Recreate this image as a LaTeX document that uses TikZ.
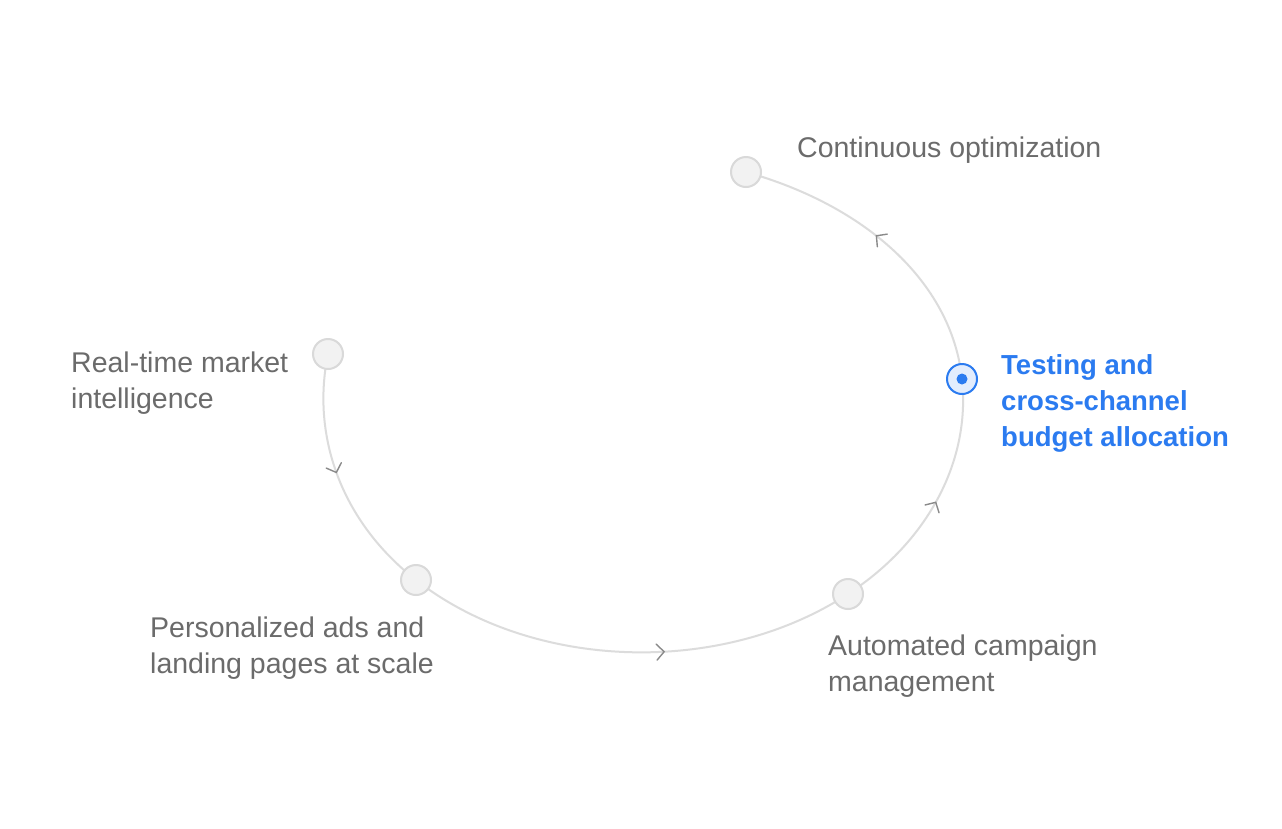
\documentclass[tikz,border=0pt]{standalone}
\usepackage{fontspec}
\setmainfont{Liberation Sans}
\usetikzlibrary{arrows.meta,decorations.markings,calc}
\definecolor{linegray}{HTML}{DCDCDC}
\definecolor{nodefill}{HTML}{F2F2F2}
\definecolor{nodeborder}{HTML}{D9D9D9}
\definecolor{arrowgray}{HTML}{8A8A8A}
\definecolor{textgray}{HTML}{6B6B6B}
\definecolor{activeblue}{HTML}{2B7BF0}
\definecolor{activefill}{HTML}{E3EDFD}
\pgfdeclarelayer{bg}
\pgfsetlayers{bg,main}
\begin{document}
\begin{tikzpicture}[x=1pt,y=1pt,
  stepnode/.style={circle, minimum size=30pt, inner sep=0pt, fill=nodefill, draw=nodeborder, line width=2pt},
  activenode/.style={circle, minimum size=30pt, inner sep=0pt, fill=activefill, draw=activeblue, line width=2pt},
  dotnode/.style={circle, minimum size=11pt, inner sep=0pt, fill=activeblue},
  steplabel/.style={anchor=base west, inner sep=0pt, text=textgray, font=\fontsize{28.5}{36}\selectfont},
  activelabel/.style={anchor=base west, inner sep=0pt, text=activeblue, font=\fontsize{27.5}{36}\selectfont\bfseries},
  cycleline/.style={draw=linegray, line width=2pt, postaction={decorate},
    decoration={markings, mark=at position #1 with {\draw[arrowgray, line width=1.4pt, line cap=round, line join=miter] (-7.5pt,8pt) -- (0,0) -- (-7.5pt,-8pt);}}},
  cycleline/.default=0.5
]
\useasboundingbox (0,0) rectangle (1282,-828);

% step markers
\node[stepnode] (RT) at (328,-354) {};
\node[stepnode] (PA) at (416,-580) {};
\node[stepnode] (AC) at (848,-594) {};
\node[activenode] (TE) at (962,-379) {};
\node[dotnode] (TEd) at (TE.center) {};
\node[stepnode] (CO) at (746,-172) {};

% background and cycle connectors
\begin{pgfonlayer}{bg}
\fill[white] (0,0) rectangle (1282,-828);
\draw[cycleline=0.47] (RT.center) .. controls ($(RT.center)+(-17,-81.6)$) and ($(PA.center)+(-74.9,58.5)$) .. (PA.center);
\draw[cycleline=0.575] (PA.center) .. controls ($(PA.center)+(116.6,-91.1)$) and ($(AC.center)+(-126.4,-82.6)$) .. (AC.center);
\draw[cycleline=0.5] (AC.center) .. controls ($(AC.center)+(80.2,52.4)$) and ($(TE.center)+(8.7,-81.8)$) .. (TE.center);
\draw[cycleline=0.54] (TE.center) .. controls ($(TE.center)+(-10.5,98.1)$) and ($(CO.center)+(117.9,-33.0)$) .. (CO.center);
\end{pgfonlayer}

% labels
\node[steplabel] (RTl) at (71,-372) {\parbox[t]{300pt}{\raggedright Real-time market\\intelligence}};
\node[steplabel] (PAl) at (150,-637) {\parbox[t]{400pt}{\raggedright Personalized ads and\\landing pages at scale}};
\node[steplabel] (ACl) at (828,-655) {\parbox[t]{400pt}{\raggedright Automated campaign\\management}};
\node[activelabel] (TEl) at (1001,-374) {\parbox[t]{270pt}{\raggedright Testing and\\cross-channel\\budget allocation}};
\node[steplabel] (COl) at (797,-157) {Continuous optimization};
\end{tikzpicture}
\end{document}
